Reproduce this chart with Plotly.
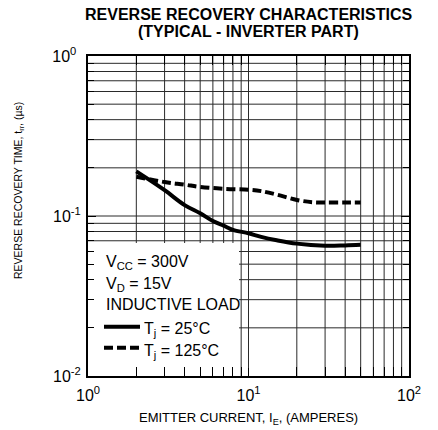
import plotly.graph_objects as go

# ---- data ----
current_25 = [2, 3, 4, 5, 6, 7, 8, 10, 12, 15, 20, 30, 40, 50]
trr_25 = [0.19, 0.145, 0.117, 0.104, 0.093, 0.087, 0.082, 0.078, 0.074, 0.0705, 0.0672, 0.0652, 0.0655, 0.066]
current_125 = [2, 3, 4, 5, 7, 10, 12, 15, 20, 25, 30, 40, 50]
trr_125 = [0.176, 0.163, 0.157, 0.152, 0.148, 0.146, 0.143, 0.136, 0.126, 0.122, 0.1215, 0.1215, 0.1215]

x_major = [1, 10, 100]
x_major_text = ["10<sup>0</sup>", "10<sup>1</sup>", "10<sup>2</sup>"]
y_major = [0.01, 0.1, 1]
y_major_text = ["10<sup>-2</sup>", "10<sup>-1</sup>", "10<sup>0</sup>\u00a0"]
x_minor = [2, 3, 4, 5, 6, 7, 8, 9, 20, 30, 40, 50, 60, 70, 80, 90]
y_minor = [0.02, 0.03, 0.04, 0.05, 0.06, 0.07, 0.08, 0.09, 0.2, 0.3, 0.4, 0.5, 0.6, 0.7, 0.8, 0.9]

FONT = "Liberation Sans, Arial, Helvetica, sans-serif"
GRID = "#2a2a2a"

W, H = 438, 430
# plot area in page pixels: x 88..409, y 56..376
PL, PR, PT, PB = 88, 409, 56, 376
L, T, R, B = PL, PT, W - PR, H - PB
PW, PH = PR - PL, PB - PT


def px(xp):
    return (xp - PL) / PW


def py(yp):
    return (PB - yp) / PH


fig = go.Figure()
fig.add_trace(go.Scatter(x=current_25, y=trr_25, mode="lines",
                         line=dict(color="black", width=4, shape="spline"),
                         showlegend=False, hoverinfo="skip"))
fig.add_trace(go.Scatter(x=current_125, y=trr_125, mode="lines",
                         line=dict(color="black", width=4, dash="9px,4px", shape="spline"),
                         showlegend=False, hoverinfo="skip"))

shapes = []
for v in x_minor + [10]:
    shapes.append(dict(type="line", xref="x", yref="paper", x0=v, x1=v, y0=0, y1=1,
                       line=dict(color=GRID, width=1), layer="below"))
for v in y_minor + [0.1]:
    shapes.append(dict(type="line", xref="paper", yref="y", x0=0, x1=1, y0=v, y1=v,
                       line=dict(color=GRID, width=1), layer="below"))
# white legend box covering the grid
shapes.append(dict(type="rect", xref="paper", yref="paper", x0=0, x1=px(239), y0=0, y1=py(243),
                   fillcolor="white", line=dict(width=0), layer="below"))
# legend samples
shapes.append(dict(type="line", xref="paper", yref="paper", x0=px(104), x1=px(140),
                   y0=py(326.7), y1=py(326.7), line=dict(color="black", width=4)))
shapes.append(dict(type="line", xref="paper", yref="paper", x0=px(104), x1=px(140),
                   y0=py(347.7), y1=py(347.7), line=dict(color="black", width=4, dash="9px,4px")))

ann = []
def txt(text, x, y, size, bold=False, xanchor="left", angle=0):
    if bold:
        text = "<b>" + text + "</b>"
    ann.append(dict(text=text, xref="paper", yref="paper", x=x, y=y, xanchor=xanchor,
                    yanchor="middle", showarrow=False, textangle=angle,
                    font=dict(family=FONT, size=size, color="black")))

txt("REVERSE RECOVERY CHARACTERISTICS", px(249), py(15), 16, bold=True, xanchor="center")
txt("(TYPICAL - INVERTER PART)", px(249), py(31), 16, bold=True, xanchor="center")
txt("V<sub>CC</sub> = 300V", px(104), py(262), 16)
txt("V<sub>D</sub> = 15V", px(104), py(284), 16)
txt("INDUCTIVE LOAD", px(104), py(304), 16)
txt("T<sub>j</sub> = 25°C", px(142), py(329), 16)
txt("T<sub>j</sub> = 125°C", px(142), py(351), 16)
txt("EMITTER CURRENT, I<sub>E</sub>, (AMPERES)", px(249), py(418), 13, xanchor="center")
txt("REVERSE RECOVERY TIME, t<sub>rr</sub>, (µs)", px(19), py(191), 10.5, xanchor="center", angle=-90)

axis_common = dict(type="log", showgrid=False, zeroline=False, showline=True,
                   linecolor="black", linewidth=2, mirror="allticks",
                   ticks="inside", ticklen=8, tickwidth=1, tickcolor="black",
                   tickfont=dict(family=FONT, size=16, color="black"),
                   tickmode="array")

fig.update_layout(
    width=W, height=H,
    margin=dict(l=L, r=R, t=T, b=B, pad=0),
    paper_bgcolor="white", plot_bgcolor="white",
    shapes=shapes, annotations=ann,
    xaxis=dict(axis_common, range=[0, 2], tickvals=x_major, ticktext=x_major_text,
               minor=dict(tickmode="array", tickvals=x_minor, ticks="inside", ticklen=9,
                          tickcolor="black", tickwidth=1, showgrid=False),
               ticklabelstandoff=4),
    yaxis=dict(axis_common, range=[-2, 0], tickvals=y_major, ticktext=y_major_text,
               minor=dict(tickmode="array", tickvals=y_minor, ticks="inside", ticklen=6,
                          tickcolor="black", tickwidth=1, showgrid=False),
               ticklabelstandoff=2),
)

# remove the default 8px page margin so the 438x430 figure fills the window
fig.write_html("out.html", config={"displayModeBar": False},
               post_script="document.body.style.margin='0';")
